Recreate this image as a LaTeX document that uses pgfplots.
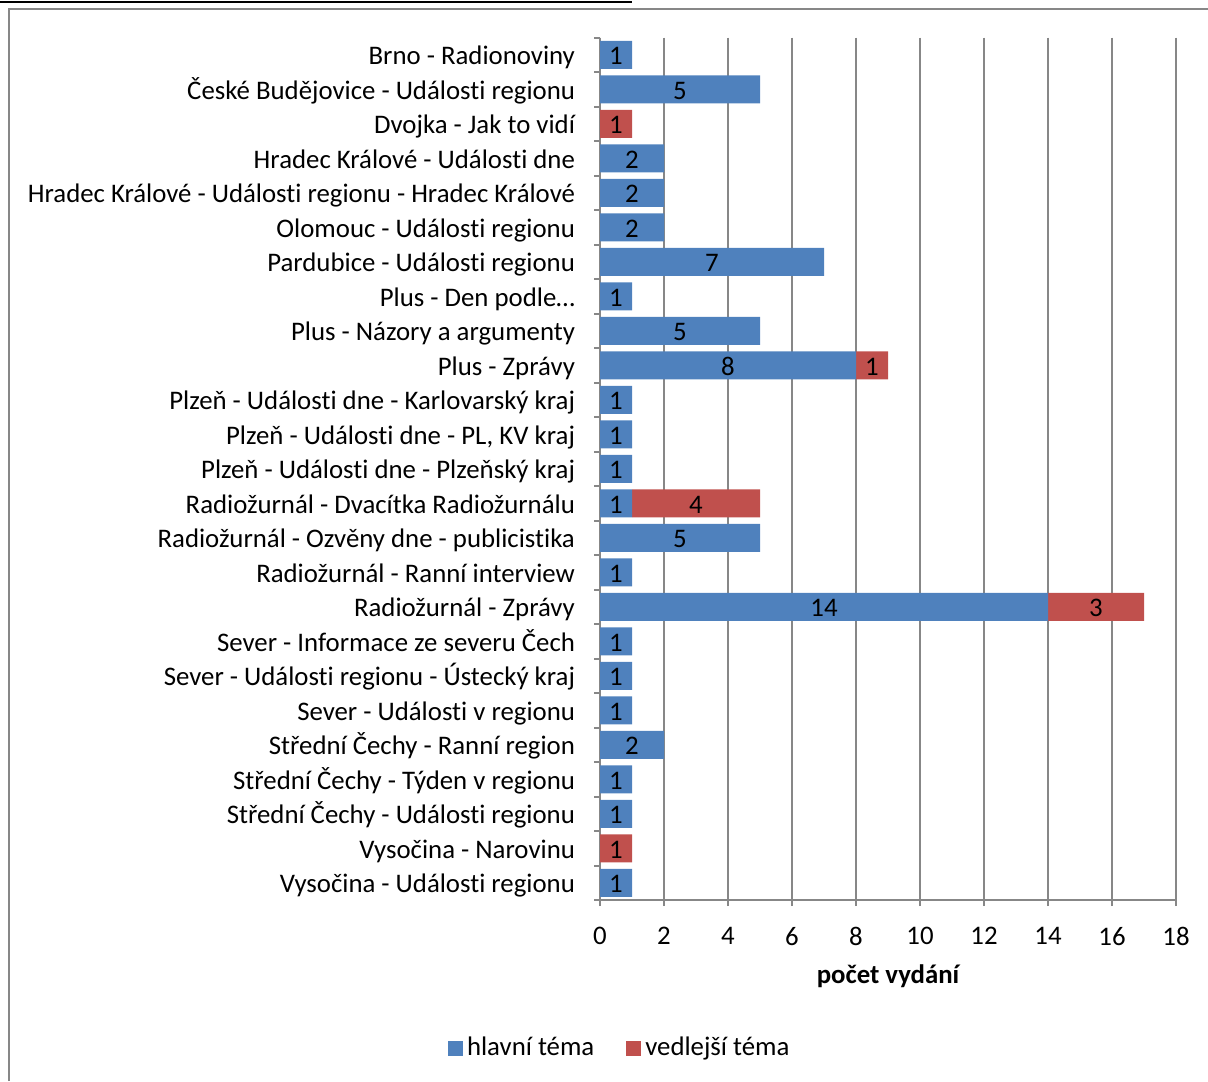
\documentclass[border=0pt]{standalone}
\usepackage{pgfplots}
\pgfplotsset{compat=1.18}
\usepackage{fontspec}
\setmainfont{Carlito}[Ligatures=NoCommon]
\definecolor{cblue}{HTML}{4F81BD}
\definecolor{cred}{HTML}{C0504D}
\definecolor{cgrid}{HTML}{878787}
\newcommand\f{\fontsize{13.4pt}{16pt}\selectfont}
\pgfplotstableread{
y main side
0 1 0
1 5 0
2 0 1
3 2 0
4 2 0
5 2 0
6 7 0
7 1 0
8 5 0
9 8 1
10 1 0
11 1 0
12 1 0
13 1 4
14 5 0
15 1 0
16 14 3
17 1 0
18 1 0
19 1 0
20 2 0
21 1 0
22 1 0
23 0 1
24 1 0
}\datatable
\pgfplotstableread{
x y l
0.5 0 1
2.5 1 5
0.5 2 1
1 3 2
1 4 2
1 5 2
3.5 6 7
0.5 7 1
2.5 8 5
4 9 8
8.5 9 1
0.5 10 1
0.5 11 1
0.5 12 1
0.5 13 1
3 13 4
2.5 14 5
0.5 15 1
7 16 14
15.5 16 3
0.5 17 1
0.5 18 1
0.5 19 1
1 20 2
0.5 21 1
0.5 22 1
0.5 23 1
0.5 24 1
}\labeltable
\begin{document}
\begin{tikzpicture}
\useasboundingbox (0,0) rectangle (604pt,-540.5pt);
\draw[black,line width=0.8pt] (0,-1pt) -- (316pt,-1pt);
\draw[cgrid,line width=1pt] (4.25pt,-540.5pt) -- (4.25pt,-4.75pt) -- (604pt,-4.75pt);
\begin{axis}[
  at={(300pt,-450pt)}, anchor=south west,
  scale only axis, width=288pt, height=431.25pt,
  xbar stacked, bar width=14pt,
  xmin=0, xmax=18, ymin=-0.5, ymax=24.5, y dir=reverse,
  axis x line*=bottom, axis y line*=left,
  axis line style={cgrid,line width=1pt,-},
  xtick={0,2,...,18}, xticklabels={0,2,4,6,8,10,12,14,16,18},
  xmajorgrids, grid style={cgrid,line width=1pt},
  tick align=outside, major tick length=3pt,
  xtick style={cgrid,line width=1pt},
  ytick={0,...,24}, major y tick style={draw=none},
  minor ytick={-0.5,0.5,...,24.5}, minor tick length=3pt,
  minor y tick style={cgrid,line width=1pt},
  yticklabels={Brno - Radionoviny,České Budějovice - Události regionu,Dvojka - Jak to vidí,Hradec Králové - Události dne,Hradec Králové - Události regionu - Hradec Králové,Olomouc - Události regionu,Pardubice - Události regionu,Plus - Den podle…,Plus - Názory a argumenty,Plus - Zprávy,Plzeň - Události dne - Karlovarský kraj,{Plzeň - Události dne - PL, KV kraj},Plzeň - Události dne - Plzeňský kraj,Radiožurnál - Dvacítka Radiožurnálu,Radiožurnál - Ozvěny dne - publicistika,Radiožurnál - Ranní interview,Radiožurnál - Zprávy,Sever - Informace ze severu Čech,Sever - Události regionu - Ústecký kraj,Sever - Události v regionu,Střední Čechy - Ranní region,Střední Čechy - Týden v regionu,Střední Čechy - Události regionu,Vysočina - Narovinu,Vysočina - Události regionu},
  yticklabel style={font=\f, text=black, text height=9.2pt, text depth=3pt, xshift=-6pt, yshift=-2pt},
  xticklabel style={font=\f, text=black, yshift=-7pt},
  xlabel={počet vydání},
  xlabel style={font=\f\bfseries, at={(axis description cs:0.5,-0.0881)}, anchor=center},
  legend style={draw=none, at={(0.036,-0.1716)}, anchor=center, legend columns=2, font=\f,
    /tikz/every even column/.append style={column sep=14pt}},
  legend image code/.code={\fill[#1] (-1pt,-3.75pt) rectangle (6.5pt,3.75pt);},
]
\addplot[fill=cblue, draw=none] table[x=main, y=y] {\datatable};
\addplot[fill=cred, draw=none] table[x=side, y=y] {\datatable};
\legend{hlavní téma, vedlejší téma}
\end{axis}
\begin{axis}[
  at={(300pt,-450pt)}, anchor=south west,
  scale only axis, width=288pt, height=431.25pt,
  xmin=0, xmax=18, ymin=-0.5, ymax=24.5, y dir=reverse,
  hide axis,
]
\addplot[draw=none, mark=none, nodes near coords, point meta=explicit symbolic,
  every node near coord/.append style={anchor=center, font=\f, text=black, text height=9.2pt, text depth=0pt, yshift=-0.5pt}]
  table[x=x, y=y, meta=l] {\labeltable};
\end{axis}
\end{tikzpicture}
\end{document}
